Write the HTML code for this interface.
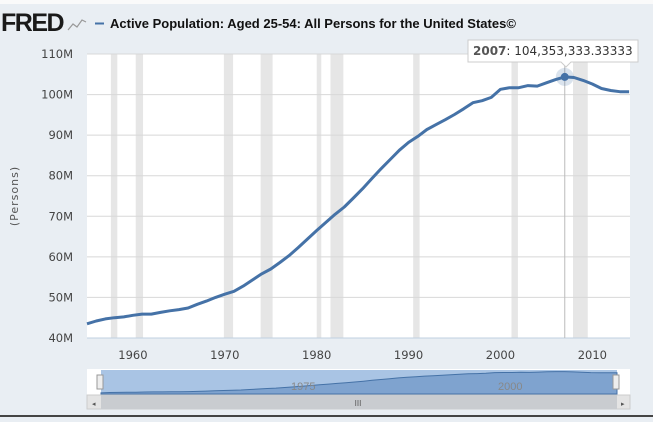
<!DOCTYPE html>
<html><head><meta charset="utf-8"><style>
body{margin:0;width:653px;height:417px;overflow:hidden;background:#e9eef3;font-family:"Liberation Sans",sans-serif}
</style></head><body>
<svg id="c" width="653" height="417" xmlns="http://www.w3.org/2000/svg">
<rect x="0" y="0" width="653" height="417" fill="#e9eef3"/>
<rect x="0" y="0" width="653" height="4" fill="#fafafa"/>
<text x="1" y="31" font-size="25" font-weight="bold" fill="#1a1a1a" letter-spacing="-1.5">FRED</text>
<polyline points="68,30 73,24 77,27 82,20 86,22" fill="none" stroke="#999" stroke-width="1.2"/>
<line x1="95" y1="23.5" x2="104" y2="23.5" stroke="#4572a7" stroke-width="2"/>
<text x="110" y="28" font-size="13" font-weight="bold" fill="#111">Active Population: Aged 25-54: All Persons for the United States©</text>
<text transform="translate(18,196) rotate(-90)" text-anchor="middle" font-size="11" fill="#555" letter-spacing="1" font-family="DejaVu Sans">(Persons)</text>
<g id="plot"></g>
<rect x="87" y="369" width="543" height="26" fill="#fff"/>
<rect x="101" y="370" width="516" height="25" fill="#a9c4e4"/>
<path id="navArea" fill="#7fa3cf" stroke="#4572a7" stroke-width="1"/>
<text x="291" y="390" font-size="11" fill="#888">1975</text>
<text x="498" y="390" font-size="11" fill="#888">2000</text>
<rect x="97" y="375" width="6" height="14" fill="#eee" stroke="#999"/>
<rect x="613" y="375" width="6" height="14" fill="#eee" stroke="#999"/>
<rect x="87" y="395" width="543" height="14" fill="#e4e4e4" stroke="#ccc"/>
<rect x="101" y="395" width="516" height="14" fill="#c9ccd0"/>
<text x="358" y="406" font-size="8" fill="#555" text-anchor="middle">III</text>
<text x="92" y="406" font-size="7" fill="#555">◂</text>
<text x="621" y="406" font-size="7" fill="#555">▸</text>
<rect x="0" y="415" width="653" height="2" fill="#444"/>
</svg>
<script>
const years=[];for(let y=1955;y<=2014;y++)years.push(y);
const values=[43.5,44.2,44.7,45.0,45.2,45.6,45.9,45.9,46.3,46.7,47.0,47.4,48.3,49.1,50.0,50.8,51.5,52.8,54.3,55.8,57.0,58.6,60.3,62.3,64.4,66.5,68.5,70.5,72.3,74.5,76.8,79.3,81.7,84.0,86.3,88.2,89.7,91.4,92.6,93.8,95.1,96.5,98.0,98.5,99.3,101.3,101.7,101.7,102.2,102.1,102.9,103.7,104.353333,104.2,103.5,102.6,101.5,101.0,100.7,100.7];
const recStart=[1957.6,1960.3,1969.9,1973.9,1980.0,1981.5,1990.5,2001.2,2007.9];
const recEnd=[1958.3,1961.1,1970.9,1975.2,1980.5,1982.9,1991.2,2001.9,2009.5];
const yTicks=[40,50,60,70,80,90,100,110];
const xTicks=[1960,1970,1980,1990,2000,2010];
const NS="http://www.w3.org/2000/svg";
const L=87,R=630,T=54,B=338;
const xs=v=>L+(v-1955)*(R-L)/(2014.1-1955);
const ys=v=>B-(v-40)*(B-T)/70;
const g=document.getElementById('plot');
function mk(t,a,p){const e=document.createElementNS(NS,t);for(const k in a)e.setAttribute(k,a[k]);(p||g).appendChild(e);return e;}
let e=mk('rect',{x:L,y:T,width:R-L,height:B-T,fill:'#fff'});


recStart.forEach((s,i)=>{const r=mk('rect',{x:xs(s),y:T,width:xs(recEnd[i])-xs(s),height:B-T,fill:'#e6e6e6'});

});
yTicks.forEach(v=>{const l=mk('line',{x1:L,x2:R,y1:ys(v),y2:ys(v),stroke:v==40?'#c0d0e0':'#d8d8d8','stroke-width':1});


const t=mk('text',{x:L-14,y:ys(v)+4,'text-anchor':'end','font-size':11.5,'font-family':'DejaVu Sans',fill:'#444'});t.textContent=v+'M';

});
xTicks.forEach(v=>{const t=mk('text',{x:xs(v),y:B+21,'text-anchor':'middle','font-size':11.5,'font-family':'DejaVu Sans',fill:'#444'});t.textContent=v;

});
const hi=years.indexOf(2007);
let cl=mk('line',{x1:xs(2007),x2:xs(2007),y1:T,y2:B,stroke:'#bbb','stroke-width':1});


const pts=years.map((y,i)=>xs(y).toFixed(1)+','+ys(values[i]).toFixed(1));
let line=mk('polyline',{points:pts.join(' '),fill:'none',stroke:'#4572a7','stroke-width':3,'stroke-linejoin':'round'});


mk('circle',{cx:xs(2007),cy:ys(values[hi]),r:9,fill:'rgba(69,114,167,0.2)'});
let dot=mk('circle',{cx:xs(2007),cy:ys(values[hi]),r:4,fill:'#4572a7'});


const tg=mk('g',{});


mk('path',{d:'M468,40 H638 V62 H571 L566,67 L561,62 H468 Z',fill:'#fff',stroke:'#ccc'},tg);
const tt=mk('text',{x:473,y:55,'font-size':12,'font-family':'DejaVu Sans',fill:'#333'},tg);
tt.innerHTML='<tspan font-weight="bold" fill="#555">2007</tspan>: 104,353,333.33333';
const nB=394,nT=371,nL=101,nR=617;
const nx=i=>nL+i*(nR-nL)/(years.length-1), ny=v=>nB-(v-40)*(nB-nT)/66;
let d='M'+nL+','+nB;years.forEach((y,i)=>d+=' L'+nx(i).toFixed(1)+','+ny(values[i]).toFixed(1));d+=' L'+nR+','+nB+'Z';
document.getElementById('navArea').setAttribute('d',d);
</script>
</body></html>
